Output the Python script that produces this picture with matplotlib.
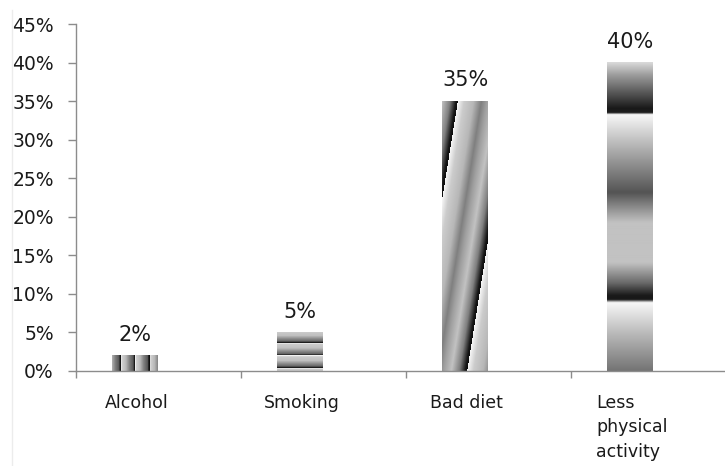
import numpy as np
import matplotlib.pyplot as plt
from matplotlib.lines import Line2D

# --- Data ---
categories = ["Alcohol", "Smoking", "Bad diet", "Less\nphysical\nactivity"]
values = [2, 5, 35, 40]                 # percent
y_ticks = list(range(0, 50, 5))
y_tick_labels = [f"{t}%" for t in y_ticks]

# --- Layout (pixels of the 725x466 canvas) ---
W, H = 725, 466
ax_left, ax_right = 76, 736
ax_bottom, ax_top = 371, 24
px_per_cat = (ax_right - ax_left) / 4
px_per_pct = (ax_bottom - ax_top) / 45
bar_width = 46 / px_per_cat
bar_offset = 0.358                      # bars sit left of the category centre


# --- Gradient textures (grayscale, 0 = black, 1 = white) ---
def saw(phase, xs, ys):
    return np.interp(np.mod(phase, 1.0), xs, ys)


def tex_vertical_stripes(pw, ph):
    xp = np.arange(pw)[None, :] + np.zeros((ph, 1))
    p = (xp - 8.5) / 14.3
    return saw(p, [0, 0.08, 0.35, 0.6, 0.85, 0.95, 1.0],
                  [0.95, 0.82, 0.72, 0.5, 0.35, 0.08, 0.05])


def tex_horizontal_stripes(pw, ph):
    yp = np.arange(ph)[:, None] + np.zeros((1, pw))
    p = (yp - 10.5) / 12.5
    return saw(p, [0, 0.1, 0.4, 0.65, 0.85, 0.95, 1.0],
                  [0.95, 0.8, 0.75, 0.55, 0.4, 0.12, 0.1])


def tex_diagonal(pw, ph):
    yp, xp = np.mgrid[0:ph, 0:pw]
    u = xp + 0.16 * yp
    p = (u - 15.3) / 52.5
    return saw(p, [0, 0.12, 0.3, 0.45, 0.55, 0.7, 0.85, 0.96, 1.0],
                  [0.97, 0.8, 0.72, 0.5, 0.62, 0.76, 0.5, 0.1, 0.05])


def tex_bands(pw, ph):
    yp = np.arange(ph)[:, None] + np.zeros((1, pw))
    keys = [0, 12, 46, 50, 52, 70, 97, 130, 150, 160, 200, 220, 233, 237, 240, 268, 309]
    vals = [0.85, 0.62, 0.1, 0.12, 0.97, 0.82, 0.6, 0.33, 0.62, 0.76, 0.76, 0.42, 0.1, 0.1, 0.97, 0.75, 0.45]
    return np.interp(yp * 309 / ph, keys, vals)


textures = [tex_vertical_stripes, tex_horizontal_stripes, tex_diagonal, tex_bands]

# --- Plotting ---
fig = plt.figure(figsize=(W / 100, H / 100), dpi=100)
ax = fig.add_axes([ax_left / W, (H - ax_bottom) / H,
                   (ax_right - ax_left) / W, (ax_bottom - ax_top) / H])

x = np.arange(len(categories)) + bar_offset
bars = ax.bar(x, values, width=bar_width, facecolor="none", edgecolor="none")

for rect, make_tex in zip(bars, textures):
    bx, bw, bh = rect.get_x(), rect.get_width(), rect.get_height()
    pw = max(int(round(bw * px_per_cat)), 2)
    ph = max(int(round(bh * px_per_pct)), 2)
    img = make_tex(pw, ph)
    ax.imshow(img, cmap="gray", vmin=0, vmax=1, aspect="auto",
              interpolation="bilinear", extent=(bx, bx + bw, 0, bh), zorder=2)

for xi, v in zip(x, values):
    ax.annotate(f"{v}%", (xi, v), xytext=(0, 15), textcoords="offset points",
                ha="center", va="center", fontsize=15, color="#1a1a1a")

for xi, cat in zip(x, categories):
    ax.text(xi + 0.01, -0.066, cat, transform=ax.get_xaxis_transform(),
            ha="center", va="top", multialignment="left", linespacing=1.45,
            fontsize=12.5, color="#1a1a1a")

ax.set_xlim(0, 4)
ax.set_ylim(0, 45)
ax.set_xticks(range(5))
ax.set_xticklabels([])
ax.set_yticks(y_ticks)
ax.set_yticklabels(y_tick_labels, fontsize=13.5, color="#1a1a1a")
ax.tick_params(axis="y", length=6, width=1, color="#8c8c8c", pad=10)
ax.tick_params(axis="x", length=5, width=1, color="#8c8c8c")
for side in ["top", "right"]:
    ax.spines[side].set_visible(False)
for side in ["left", "bottom"]:
    ax.spines[side].set_color("#8c8c8c")
    ax.spines[side].set_linewidth(1)

# faint frame line at the far left
fig.add_artist(Line2D([12 / W, 12 / W], [0, 1 - 10 / H], color="#ececec", lw=1))

fig.savefig("out.png", dpi=100)
